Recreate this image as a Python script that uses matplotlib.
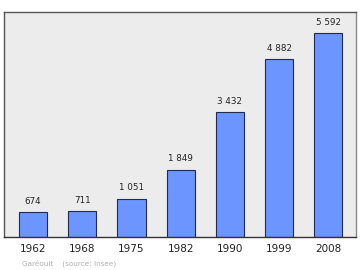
import matplotlib.pyplot as plt

years = ["1962", "1968", "1975", "1982", "1990", "1999", "2008"]
population = [674, 711, 1051, 1849, 3432, 4882, 5592]
labels = ["674", "711", "1 051", "1 849", "3 432", "4 882", "5 592"]

fig = plt.figure(figsize=(3.6, 2.7), dpi=100)
ax = fig.add_axes([4/360, 1 - 237/270, 352/360, 225/270])
ax.set_facecolor("#ececec")

x = list(range(len(years)))
ax.bar(x, population, width=0.57, color="#6d95ff", edgecolor="#1f2a55", linewidth=0.8, zorder=2)

for i, v in enumerate(population):
    ax.text(i, v + 170, labels[i], ha="center", va="bottom", fontsize=6.3, color="#222222")

ax.set_xlim(-0.59, 6.56)
ax.set_ylim(0, 6170)
ax.set_yticks([])
ax.set_xticks(x)
ax.set_xticklabels(years, fontsize=7.5, color="#222222")
ax.tick_params(axis="x", length=0, pad=5)

ax.spines["left"].set_color("#555555")
ax.spines["bottom"].set_color("#333333")
ax.spines["top"].set_color("#555555")
ax.spines["right"].set_color("#888888")
for s in ax.spines.values():
    s.set_linewidth(1.0)

fig.text(22/360, 1 - 263/270, "Garéoult    (source: Insee)", fontsize=5.2, color="#b0b0b0", va="center")

fig.savefig("out.png", dpi=100)
